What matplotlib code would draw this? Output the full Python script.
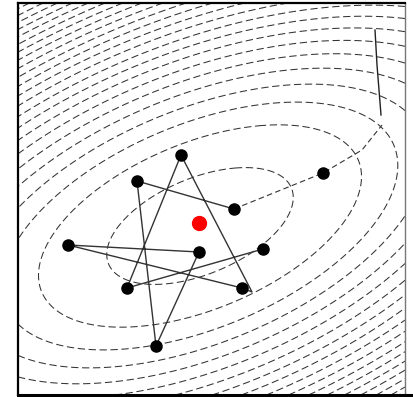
import numpy as np
import matplotlib.pyplot as plt
from matplotlib.lines import Line2D

# solid path through the sampled points (in drawing order)
path_x = [234, 137, 156, 199, 68, 242, 252, 181, 127, 263]
path_y = [209, 181, 346, 252, 245, 288, 292, 155, 288, 249]

# sampled points
pts_x = [181, 137, 234, 323, 68, 199, 263, 127, 242, 156]
pts_y = [155, 181, 209, 173, 245, 252, 249, 288, 288, 346]

# current best
best_x = [199]
best_y = [223]

# search direction and its tail
dir_x = [234, 323, 362, 382]
dir_y = [209, 173, 150, 125]
tail_x = [381, 377, 375]
tail_y = [115, 65, 30]

# quadratic bowl
cx, cy = 200, 226
theta = np.deg2rad(22.6)
semi_u, semi_v = 99, 48
levels = np.concatenate([[1.0, 3.0], 4.5 + 1.4 * np.arange(40)])

plt.rcParams['lines.dashed_pattern'] = [7, 3.5]

fig = plt.figure(figsize=(4.13, 3.97), dpi=100)
ax = fig.add_axes([18 / 413, 2 / 397, 387 / 413, 392 / 397])

xs = np.linspace(18, 405, 500)
ys = np.linspace(3, 395, 500)
X, Y = np.meshgrid(xs, ys)
dx, dy = X - cx, Y - cy
U = dx * np.cos(theta) - dy * np.sin(theta)
V = dx * np.sin(theta) + dy * np.cos(theta)
F = (U / semi_u) ** 2 + (V / semi_v) ** 2

ax.contour(X, Y, F, levels=levels, colors='#333333', linewidths=0.75,
           linestyles='dashed')

ax.plot(dir_x, dir_y, color='#333333', lw=0.8, ls=(0, (5, 3)))
ax.plot(tail_x, tail_y, color='#222222', lw=1.0)
ax.plot(path_x, path_y, color='#333333', lw=1.0)
ax.plot(pts_x, pts_y, 'o', color='black', ms=8)
ax.plot(best_x, best_y, 'o', color='red', ms=10)

ax.set_xlim(18, 405)
ax.set_ylim(395, 3)
ax.set_xticks([])
ax.set_yticks([])
for side in ['left', 'top']:
    ax.spines[side].set_linewidth(1.6)
ax.spines['right'].set_linewidth(1.0)
ax.spines['right'].set_color('#777777')
ax.spines['bottom'].set_linewidth(2.2)
fig.add_artist(Line2D([0.95, 1.0], [2 / 397, 2 / 397], color='black', lw=2.2))

fig.savefig('out.png', dpi=100)
